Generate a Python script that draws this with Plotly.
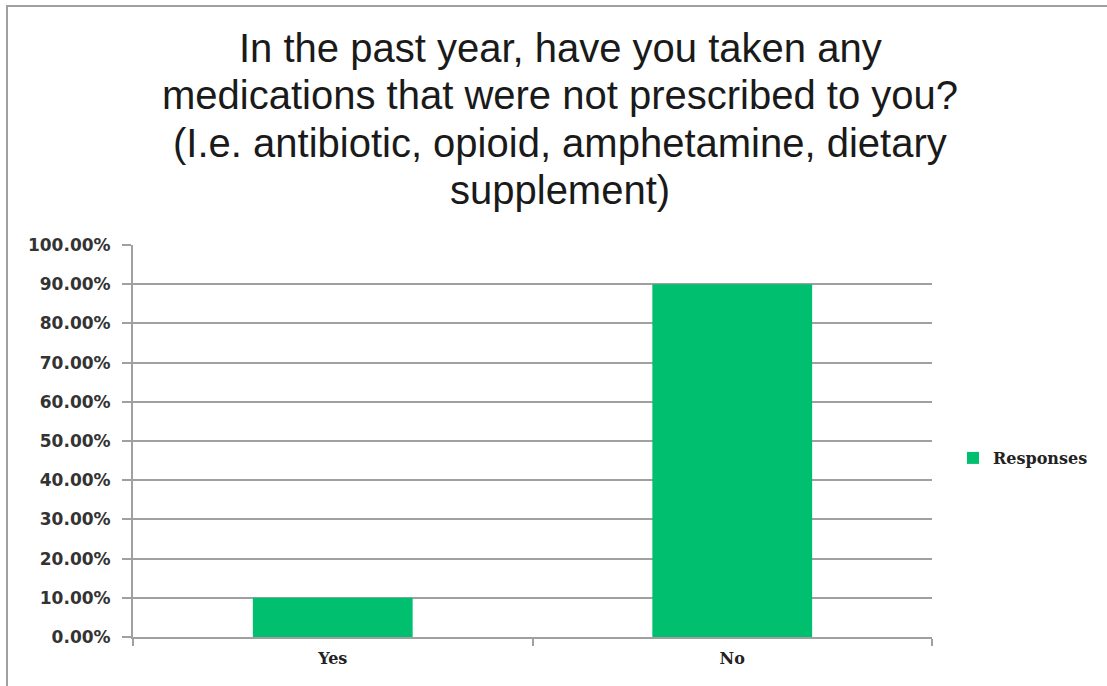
import plotly.graph_objects as go

categories = ["Yes", "No"]
responses = [10.0, 90.0]
series_name = "Responses"
title_lines = [
    "In the past year, have you taken any",
    "medications that were not prescribed to you?",
    "(I.e. antibiotic, opioid, amphetamine, dietary",
    "supplement)",
]
y_ticks = [0, 10, 20, 30, 40, 50, 60, 70, 80, 90, 100]

W, H = 1107, 686
L, R, T, B = 133, 932, 245, 637

def px(x):
    return (x - L) / (R - L)

def py(y):
    return (B - y) / (B - T)

fig = go.Figure()
fig.add_trace(go.Bar(
    x=categories, y=responses, name=series_name,
    marker=dict(color="#00BF6F", line=dict(width=0)),
    width=0.4,
))

fig.update_layout(
    width=W, height=H,
    margin=dict(l=L, r=W - R, t=T, b=H - B),
    paper_bgcolor="white", plot_bgcolor="white",
    showlegend=True,
    legend=dict(
        x=px(953), y=py(458), xref="paper", yref="paper",
        xanchor="left", yanchor="middle",
        font=dict(family="DejaVu Serif, serif", size=16, color="#222222", weight="bold"),
        itemwidth=30, bgcolor="rgba(0,0,0,0)",
    ),
    xaxis=dict(
        showline=True, linecolor="#a0a0a0", linewidth=2,
        ticks="outside", ticklen=7, tickcolor="#a0a0a0", tickwidth=2,
        tickson="boundaries",
        tickfont=dict(family="DejaVu Serif, serif", size=16, color="#222222", weight="bold"),
        showgrid=False,
        ticklabelstandoff=6,
    ),
    yaxis=dict(
        range=[0, 100], tickvals=y_ticks,
        ticktext=[f"{v:.2f}%" for v in y_ticks],
        showline=True, linecolor="#a0a0a0", linewidth=2,
        ticks="outside", ticklen=9, tickcolor="#a0a0a0", tickwidth=2,
        showgrid=True, gridcolor="#a0a0a0", gridwidth=2,
        zeroline=False,
        tickfont=dict(family="DejaVu Sans, Verdana", size=17, color="#333333", weight="bold"),
        ticklabelstandoff=8,
    ),
    bargap=0.6,
)

line_centers = [48, 95, 143, 190]
for txt, yc in zip(title_lines, line_centers):
    fig.add_annotation(
        text=txt, xref="paper", yref="paper",
        x=px(560), y=py(yc), xanchor="center", yanchor="middle",
        showarrow=False,
        font=dict(family="Liberation Sans, Arial", size=40, color="#1a1a1a"),
    )

fig.add_shape(
    type="rect", xref="paper", yref="paper",
    x0=px(7), x1=px(1120), y0=py(700), y1=py(6),
    line=dict(color="#a0a0a0", width=2), fillcolor="rgba(0,0,0,0)",
    layer="below",
)

fig.write_html("out.html", config={"displayModeBar": False},
               post_script="document.body.style.margin='0';")
